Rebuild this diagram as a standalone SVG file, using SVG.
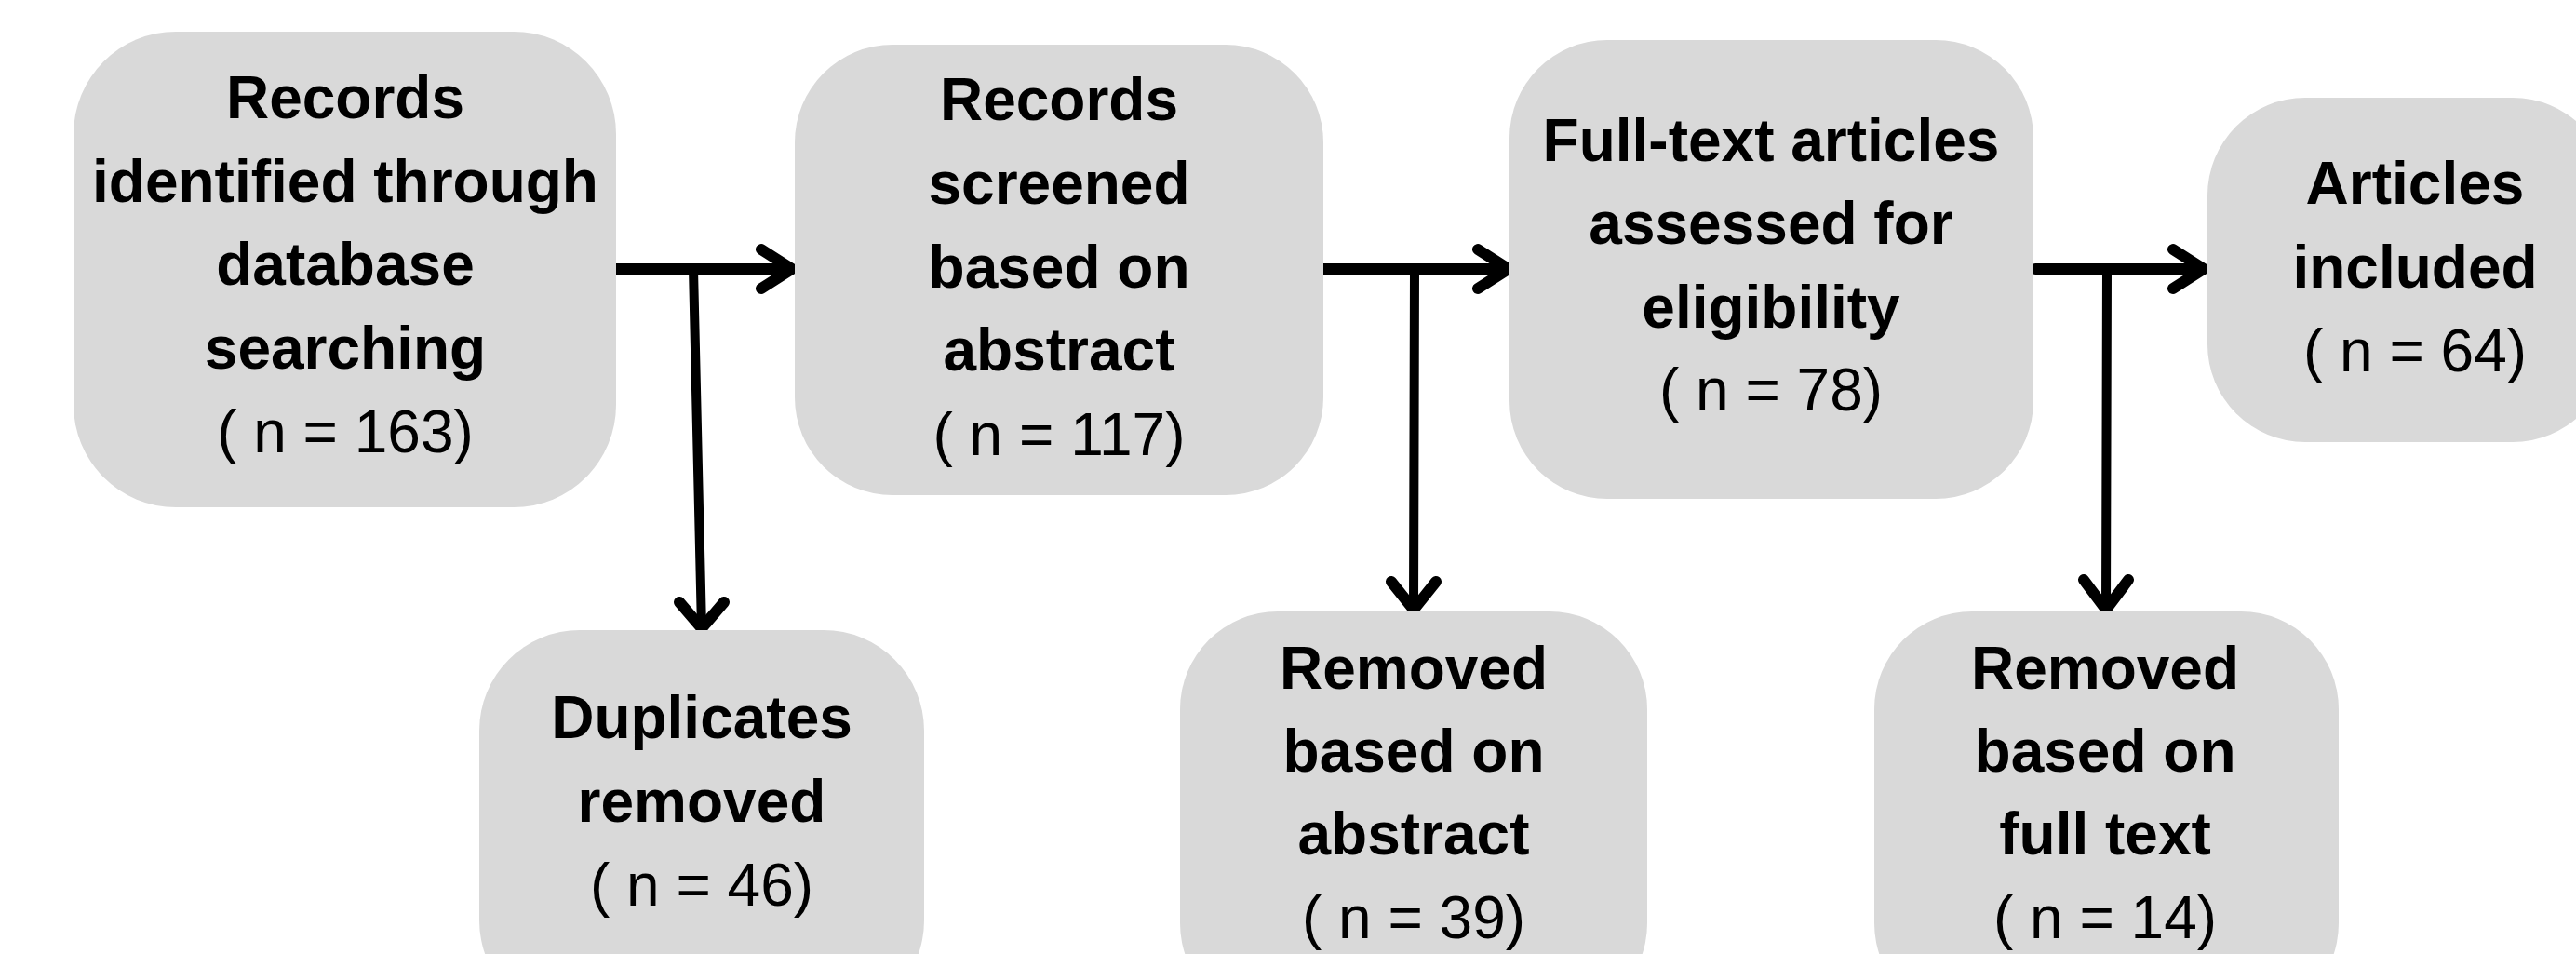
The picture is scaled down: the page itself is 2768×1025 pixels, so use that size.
<svg xmlns="http://www.w3.org/2000/svg" width="2768" height="1025" viewBox="0 0 2768 1025">
<style>
.box{fill:#d9d9d9;}
.t{font-family:"Liberation Sans",Arial,sans-serif;font-size:64px;fill:#000;text-anchor:middle;}
.b{font-weight:bold;}
.ln{stroke:#000;fill:none;stroke-linecap:round;stroke-linejoin:round;}
.h{stroke-width:12;}
.v{stroke-width:10;}
</style>
<rect width="2768" height="1025" fill="#fff"/>
<g id="connectors">
<path class="ln h" d="M660,289 H851 M818,268 L851,289 L818,310"/>
<path class="ln v" d="M745,289 L754,675"/>
<path class="ln h" d="M730,647 L754,675 L778,647"/>
<path class="ln h" d="M1422,289 H1621 M1588,268 L1621,289 L1588,310"/>
<path class="ln v" d="M1520,289 L1519,655"/>
<path class="ln h" d="M1495,625 L1519,655 L1543,625"/>
<path class="ln h" d="M2187,289 H2368 M2335,268 L2368,289 L2335,310"/>
<path class="ln v" d="M2264,289 L2263,655"/>
<path class="ln h" d="M2239,623 L2263,655 L2287,623"/>
</g>
<g id="node-identified">
<rect class="box" x="79" y="34" width="583" height="511" rx="110" ry="110"/>
<text class="t b" x="371" y="127">Records</text>
<text class="t b" x="371" y="217">identified through</text>
<text class="t b" x="371" y="306">database</text>
<text class="t b" x="371" y="396">searching</text>
<text class="t" x="371" y="486">( n = 163)</text>
</g>
<g id="node-screened">
<rect class="box" x="854" y="48" width="568" height="484" rx="105" ry="105"/>
<text class="t b" x="1138" y="129">Records</text>
<text class="t b" x="1138" y="219">screened</text>
<text class="t b" x="1138" y="309">based on</text>
<text class="t b" x="1138" y="398">abstract</text>
<text class="t" x="1138" y="489">( n = 117)</text>
</g>
<g id="node-fulltext">
<rect class="box" x="1622" y="43" width="563" height="493" rx="105" ry="105"/>
<text class="t b" x="1903" y="173">Full-text articles</text>
<text class="t b" x="1903" y="262">assessed for</text>
<text class="t b" x="1903" y="352">eligibility</text>
<text class="t" x="1903" y="441">( n = 78)</text>
</g>
<g id="node-included">
<rect class="box" x="2372" y="105" width="433" height="370" rx="105" ry="105"/>
<text class="t b" x="2595" y="219">Articles</text>
<text class="t b" x="2595" y="309">included</text>
<text class="t" x="2595" y="399">( n = 64)</text>
</g>
<g id="node-duplicates">
<rect class="box" x="515" y="677" width="478" height="420" rx="108" ry="108"/>
<text class="t b" x="754" y="793">Duplicates</text>
<text class="t b" x="754" y="883">removed</text>
<text class="t" x="754" y="973">( n = 46)</text>
</g>
<g id="node-removed-abstract">
<rect class="box" x="1268" y="657" width="502" height="440" rx="105" ry="105"/>
<text class="t b" x="1519" y="740">Removed</text>
<text class="t b" x="1519" y="829">based on</text>
<text class="t b" x="1519" y="918">abstract</text>
<text class="t" x="1519" y="1008">( n = 39)</text>
</g>
<g id="node-removed-fulltext">
<rect class="box" x="2014" y="657" width="499" height="440" rx="105" ry="105"/>
<text class="t b" x="2262" y="740">Removed</text>
<text class="t b" x="2262" y="829">based on</text>
<text class="t b" x="2262" y="918">full text</text>
<text class="t" x="2262" y="1008">( n = 14)</text>
</g>
</svg>
